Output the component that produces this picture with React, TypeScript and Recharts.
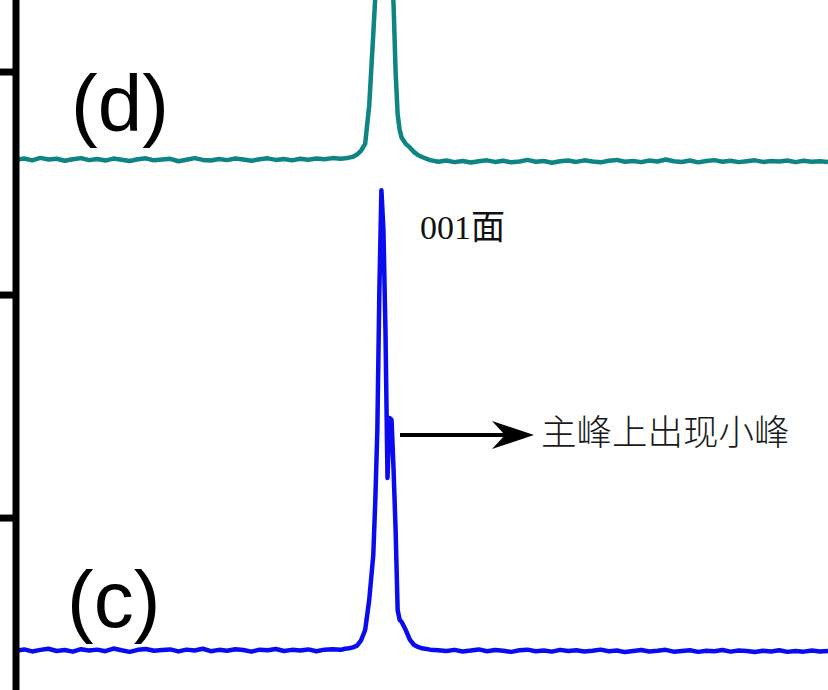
import { LineChart, Line, XAxis, YAxis } from "recharts";

// 2θ (deg) sampling: coarse on the baselines, finer across the 001 peak
const twoTheta = [
  5.0, 5.1, 5.2, 5.3, 5.4, 5.5, 5.6, 5.7, 5.8, 5.9,
  6.0, 6.1, 6.2, 6.3, 6.4, 6.5, 6.6, 6.7, 6.8, 6.9,
  7.0, 7.1, 7.2, 7.3, 7.4, 7.5, 7.6, 7.7, 7.8, 7.9,
  8.0, 8.1, 8.2, 8.3, 8.4, 8.5, 8.6, 8.7, 8.8, 8.9,
  9.0, 9.05, 9.1, 9.15, 9.2, 9.25, 9.3, 9.35, 9.4, 9.425,
  9.45, 9.475, 9.5, 9.525, 9.55, 9.575, 9.6, 9.625, 9.65, 9.675,
  9.7, 9.725, 9.75, 9.8, 9.85, 9.9, 9.95,
  10.0, 10.1, 10.2, 10.3, 10.4, 10.5, 10.6, 10.7, 10.8, 10.9,
  11.0, 11.1, 11.2, 11.3, 11.4, 11.5, 11.6, 11.7, 11.8, 11.9,
  12.0, 12.1, 12.2, 12.3, 12.4, 12.5, 12.6, 12.7, 12.8, 12.9,
  13.0, 13.1, 13.2, 13.3, 13.4, 13.5, 13.6, 13.7, 13.8, 13.9,
  14.0, 14.1, 14.2, 14.3, 14.4, 14.5, 14.6, 14.7, 14.8, 14.9, 15.0,
];

// sample (d), stacked above (c)
const seriesD = [
  2606, 2612, 2604, 2615, 2608, 2611, 2602, 2609, 2614, 2605,
  2610, 2603, 2612, 2607, 2601, 2609, 2613, 2604, 2608, 2611,
  2600, 2607, 2614, 2606, 2603, 2610, 2605, 2612, 2608, 2602,
  2609, 2613, 2606, 2610, 2604, 2611, 2607, 2612, 2609, 2614,
  2611, 2613, 2616, 2620, 2630, 2648, 2678, 2850, 3170, 3340,
  3900, 4600, 5000, 4950, 4650, 4200, 3750, 3480, 3300, 3000,
  2810, 2740, 2705, 2678, 2662, 2642, 2628,
  2619, 2605, 2598, 2603, 2596, 2601, 2594, 2600, 2604, 2597,
  2602, 2595, 2599, 2606, 2598, 2601, 2593, 2600, 2603, 2597,
  2604, 2599, 2595, 2602, 2606, 2598, 2601, 2596, 2603, 2599,
  2608, 2600, 2597, 2603, 2595, 2601, 2605, 2598, 2602, 2596,
  2600, 2604, 2597, 2601, 2599, 2603, 2596, 2602, 2598, 2600, 2597,
];

// sample (c): main peak with a small shoulder on its right
const seriesC = [
  405, 411, 402, 409, 414, 404, 408, 401, 412, 406,
  410, 403, 415, 407, 400, 409, 413, 405, 408, 411,
  402, 410, 406, 414, 403, 409, 405, 412, 408, 401,
  410, 407, 413, 404, 409, 406, 411, 403, 410, 412,
  409, 414, 416, 420, 428, 452, 498, 633, 834, 1081,
  1395, 2023, 2470, 2292, 1843, 1180, 1449, 1440, 1215, 946,
  588, 543, 534, 498, 455, 432, 422,
  416, 410, 407, 404, 409, 402, 406, 411, 403, 408,
  405, 400, 407, 410, 403, 406, 401, 409, 404, 407,
  402, 405, 410, 403, 406, 399, 404, 408, 402, 405,
  409, 401, 404, 407, 400, 405, 403, 408, 401, 406,
  404, 399, 405, 402, 407, 400, 404, 401, 406, 402, 404,
];

const yTicks = [1000, 2000, 3000];

const data = twoTheta.map((t, i) => ({ t, d: seriesD[i], c: seriesC[i] }));

const W = 828;
const H = 690;

// no tick labels, only the tick marks
const NoLabel = () => <g />;

export default function App() {
  return (
    <div style={{ position: "absolute", left: 0, top: 0, width: W, height: H, background: "#fff", overflow: "hidden" }}>
      <LineChart width={W} height={H} data={data} margin={{ top: 0, right: 0, left: 0, bottom: 0 }}>
        <XAxis dataKey="t" type="number" domain={[5, 15]} hide />
        <YAxis
          type="number"
          domain={[229, 3323]}
          allowDataOverflow
          ticks={yTicks}
          width={16}
          tick={NoLabel}
          tickSize={16}
          axisLine={{ stroke: "#000", strokeWidth: 7 }}
          tickLine={{ stroke: "#000", strokeWidth: 7 }}
        />
        <Line type="linear" dataKey="d" stroke="#0e8583" strokeWidth={4.5} strokeLinejoin="round"
          dot={false} activeDot={false} isAnimationActive={false} />
        <Line type="linear" dataKey="c" stroke="#0b0bf0" strokeWidth={4.5} strokeLinejoin="round"
          dot={false} activeDot={false} isAnimationActive={false} />
      </LineChart>

      {/* annotations */}
      <svg width={W} height={H} style={{ position: "absolute", left: 0, top: 0, pointerEvents: "none" }}>
        <text x={71} y={131} fontSize={80} fontFamily="'Liberation Sans', Arial, sans-serif" fill="#000">(d)</text>
        <text x={67} y={627} fontSize={80} fontFamily="'Liberation Sans', Arial, sans-serif" fill="#000">(c)</text>
        <text x={420} y={239} fontSize={34} fontFamily="'Liberation Serif', 'Noto Sans CJK SC', serif" fill="#111">001面</text>
        <line x1={400} y1={435} x2={506} y2={435} stroke="#000" strokeWidth={4} />
        <polygon points="534,435 492,421 505,435 492,449" fill="#000" />
        <text x={541} y={445} fontSize={35.5} fontFamily="'Noto Sans CJK SC', sans-serif" fontWeight={300} fill="#1a1a1a">主峰上出现小峰</text>
      </svg>
    </div>
  );
}
